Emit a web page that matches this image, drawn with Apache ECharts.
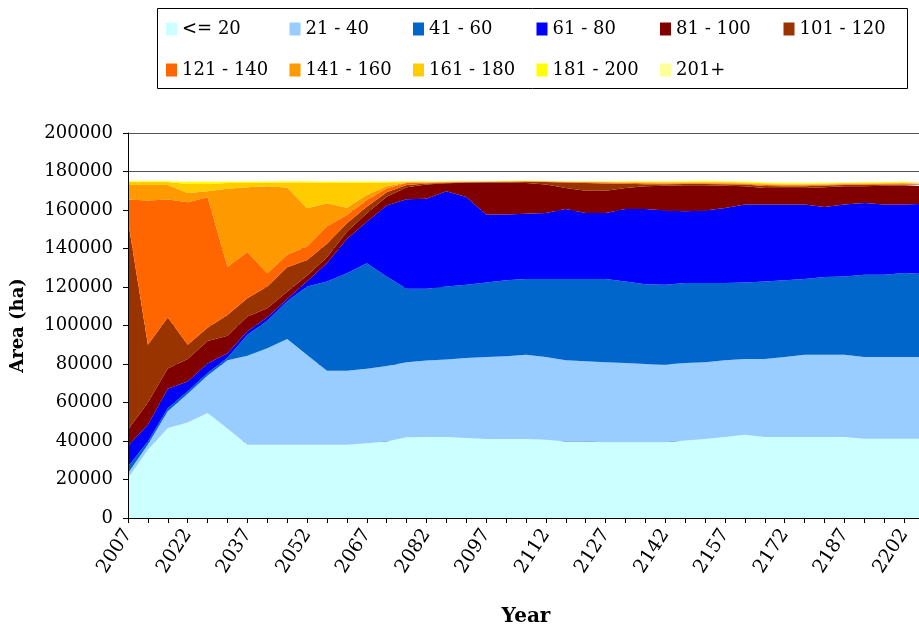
<!DOCTYPE html>
<html>
<head>
<meta charset="utf-8">
<script src="https://cdn.jsdelivr.net/npm/echarts@6.0.0/dist/echarts.min.js"></script>
<style>
  html, body { margin: 0; padding: 0; background: #fff; }
  #chart { width: 919px; height: 626px; }
</style>
</head>
<body>
<div id="chart"></div>
<script>
// years, one point every 5 years (last one falls just past the picture edge)
var years = ['2007', '2012', '2017', '2022', '2027', '2032', '2037', '2042', '2047', '2052',
  '2057', '2062', '2067', '2072', '2077', '2082', '2087', '2092', '2097', '2102',
  '2107', '2112', '2117', '2122', '2127', '2132', '2137', '2142', '2147', '2152',
  '2157', '2162', '2167', '2172', '2177', '2182', '2187', '2192', '2197', '2202', '2207'];

// area (ha) per age class
var le20 = [20800, 35400, 46700, 49600, 54500, 46500, 38000, 38000, 38000, 38000, 38000, 38000, 38800, 39800,
  42000, 42100, 42100, 41600, 41000, 41000, 41000, 40700, 39800, 39800, 39300, 39300, 39300, 39300, 40300,
  41000, 42100, 43300, 42100, 42100, 42100, 42100, 42100, 41200, 41200, 41200, 41200];
var a21to40 = [2400, 2800, 8800, 14900, 19500, 35500, 46300, 50200, 55000, 46700, 38500, 38500, 38700, 39200,
  38900, 39700, 40200, 41500, 42600, 43000, 43800, 42900, 42100, 41600, 41600, 41200, 40700, 40400, 40200,
  39900, 39800, 39300, 40500, 41500, 42700, 42700, 42700, 42400, 42400, 42400, 42400];
var a41to60 = [3600, 1500, 1500, 1300, 1300, 1200, 10900, 14300, 19600, 35500, 46300, 50600, 54800, 46500,
  38200, 37300, 38000, 38100, 38800, 39500, 39400, 40600, 42300, 42800, 43300, 42400, 41400, 41500, 41600,
  41200, 40200, 39800, 40300, 39900, 39400, 40400, 40700, 42800, 42800, 43700, 43200];
var a61to80 = [10700, 8800, 10200, 5100, 4900, 2400, 1800, 1800, 1200, 2800, 9700, 17900, 21600, 36800,
  46500, 46700, 49400, 45600, 35200, 34100, 33900, 34200, 36300, 34200, 34200, 37600, 39100, 38600, 37200,
  37700, 38900, 40400, 39900, 39300, 38600, 36400, 37300, 37200, 36400, 35500, 36500];
var a81to100 = [8300, 11500, 10400, 11700, 11700, 9100, 7700, 4700, 3700, 3000, 3000, 3700, 4400, 4600,
  6200, 7400, 4200, 7400, 16700, 16700, 15900, 14800, 10900, 11600, 11600, 10900, 11800, 12800, 13500,
  13000, 11600, 9500, 8600, 8600, 8600, 10200, 9500, 8700, 9800, 9800, 9100];
var a101to120 = [108700, 30000, 26600, 7400, 6900, 10800, 9500, 11200, 12700, 8000, 7000, 4400, 3400, 2300,
  1200, 600, 300, 200, 200, 300, 600, 1300, 2900, 4000, 3800, 2200, 1100, 800, 700,
  700, 800, 900, 1100, 1000, 1000, 900, 700, 700, 600, 700, 800];
var a121to140 = [11000, 75000, 61300, 74000, 67800, 25000, 24000, 7000, 6500, 7000, 9000, 4300, 3500, 2100,
  1000, 400, 200, 200, 200, 200, 300, 300, 300, 400, 500, 500, 500, 400, 400,
  400, 400, 400, 500, 500, 500, 400, 400, 400, 400, 400, 400];
var a141to160 = [7500, 8000, 7500, 4800, 3200, 40500, 33600, 45100, 35000, 19900, 12000, 3800, 2600, 1100,
  300, 200, 200, 100, 100, 100, 100, 100, 100, 200, 200, 200, 200, 300, 200,
  300, 300, 300, 400, 400, 400, 300, 300, 300, 300, 300, 300];
var a161to180 = [1500, 1500, 1500, 4700, 3700, 3000, 2200, 1900, 2600, 13400, 10500, 13000, 6400, 1900,
  300, 300, 200, 200, 100, 100, 100, 100, 100, 200, 200, 300, 400, 400, 500,
  500, 500, 400, 500, 400, 400, 400, 300, 400, 300, 300, 300];
var a181to200 = [500, 500, 500, 1000, 1000, 700, 700, 600, 600, 600, 700, 600, 600, 500,
  300, 200, 200, 100, 100, 100, 100, 100, 200, 200, 200, 300, 400, 400, 400,
  400, 400, 500, 400, 400, 300, 300, 300, 300, 300, 300, 300];
var a201plus = [300, 300, 300, 500, 500, 400, 400, 400, 300, 300, 400, 400, 400, 300,
  300, 300, 200, 200, 200, 200, 100, 100, 100, 100, 200, 200, 200, 200, 200,
  200, 200, 200, 300, 300, 300, 300, 300, 300, 300, 300, 300];

var classNames = ['<= 20', '21 - 40', '41 - 60', '61 - 80', '81 - 100', '101 - 120',
  '121 - 140', '141 - 160', '161 - 180', '181 - 200', '201+'];
var classData = [le20, a21to40, a41to60, a61to80, a81to100, a101to120,
  a121to140, a141to160, a161to180, a181to200, a201plus];
var classColors = ['#CCFFFF', '#99CCFF', '#0066CC', '#0000FF', '#800000', '#993300',
  '#FF6600', '#FF9900', '#FFCC00', '#FFFF00', '#FFFF99'];

// the source text is a wide Times; DejaVu Serif gets closest to its size
var serif = '"DejaVu Serif", "Liberation Serif", serif';

var chart = echarts.init(document.getElementById('chart'), null, { renderer: 'canvas' });

// stacked areas, first class at the bottom
var series = classNames.map(function (name, i) {
  return {
    name: name,
    type: 'line',
    stack: 'area',
    data: classData[i],
    symbol: 'none',
    color: classColors[i],
    lineStyle: { width: 0 },
    areaStyle: { color: classColors[i], opacity: 1 },
    emphasis: { disabled: true }
  };
});

// legend laid out as a 6 + 5 grid, one legend component per item
var legends = classNames.map(function (name, i) {
  return {
    data: [name],
    left: 166 + (i % 6) * 123.5,
    top: i < 6 ? 20 : 61,
    padding: 0,
    itemWidth: 11,
    itemHeight: 13,
    itemGap: 0,
    icon: 'rect',
    selectedMode: false,
    textStyle: { fontFamily: serif, fontSize: 18, color: '#000' }
  };
});

var option = {
  animation: false,
  backgroundColor: '#fff',
  grid: { left: 128, top: 133, right: -5, bottom: 108, containLabel: false, outerBoundsMode: 'none' },
  legend: legends,
  graphic: [{
    type: 'rect',
    shape: { x: 157.5, y: 8.5, width: 750, height: 80 },
    style: { fill: 'none', stroke: '#000', lineWidth: 1 },
    z: -1
  }],
  xAxis: {
    type: 'category',
    data: years,
    boundaryGap: false,
    z: 5,
    name: 'Year',
    nameLocation: 'middle',
    nameGap: 89,
    nameTextStyle: { fontFamily: serif, fontSize: 20, fontWeight: 'bold', color: '#000' },
    axisLine: { lineStyle: { color: '#000', width: 1 } },
    axisTick: { show: true, interval: 0, length: 5, lineStyle: { color: '#000' } },
    axisLabel: {
      interval: 2,
      rotate: 57,
      margin: 13,
      fontFamily: serif,
      fontSize: 19,
      color: '#000'
    },
    splitLine: { show: false }
  },
  yAxis: [{
    type: 'value',
    min: 0,
    max: 200000,
    interval: 20000,
    name: 'Area (ha)',
    nameLocation: 'middle',
    nameGap: 101,
    nameTextStyle: { fontFamily: serif, fontSize: 18, fontWeight: 'bold', color: '#000' },
    axisLine: { show: false },
    axisTick: { show: true, length: 5, lineStyle: { color: '#000' } },
    axisLabel: {
      margin: 15,
      fontFamily: serif,
      fontSize: 18,
      color: '#000',
      formatter: function (v) { return String(v); }
    },
    splitLine: { show: true, lineStyle: { color: '#555', width: 1 } }
  }, {
    // draws the left axis line above the areas
    type: 'value',
    position: 'left',
    min: 0,
    max: 200000,
    interval: 20000,
    z: 5,
    axisLine: { show: true, lineStyle: { color: '#000', width: 1 } },
    axisTick: { show: false },
    axisLabel: { show: false },
    splitLine: { show: false }
  }],
  series: series
};

chart.setOption(option);
</script>
</body>
</html>
